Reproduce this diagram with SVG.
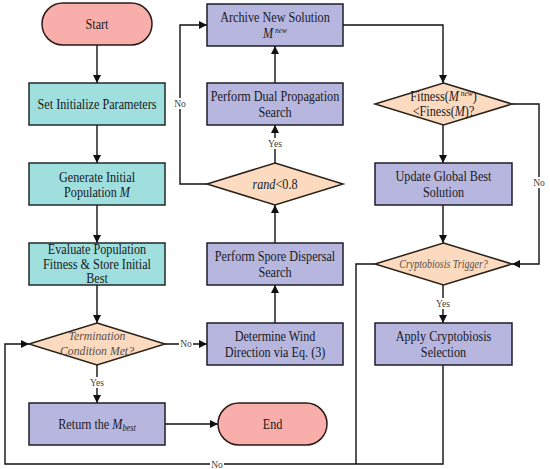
<svg xmlns="http://www.w3.org/2000/svg" width="550" height="469" viewBox="0 0 550 469">
<defs>
<marker id="ah" viewBox="0 0 10 10" refX="10" refY="5" markerWidth="8" markerHeight="8" markerUnits="userSpaceOnUse" orient="auto">
<path d="M0,0 L10,5 L0,10 z" fill="#111"/>
</marker>
<style>
.term{fill:#F8AFAB;stroke:#2a1a1a;stroke-width:1.5}
.teal{fill:#9FDFDE;stroke:#1e2a2a;stroke-width:1.5}
.lav{fill:#B6B6DF;stroke:#1e1e2a;stroke-width:1.5}
.dec{fill:#FBDAC0;stroke:#2a2218;stroke-width:1.5}
.t{font-size:14px;fill:#1a1a22;text-anchor:middle}
.it{font-style:italic}
.q{font-style:italic;fill:#5a5048;text-anchor:middle}
.lbl{font-size:11px;fill:#444;text-anchor:middle}
.c{fill:none;stroke:#111;stroke-width:1.4}
.a{marker-end:url(#ah)}
.bg{fill:#fff}
</style>
</defs>

<g id="connectors">
<path class="c a" d="M97,45 V83"/>
<path class="c a" d="M97,125 V163"/>
<path class="c a" d="M97,205 V243"/>
<path class="c a" d="M97,285 V323"/>
<path class="c a" d="M97,365 V403"/>
<path class="c a" d="M165,424 H218"/>
<path class="c a" d="M165,344 H207"/>
<path class="c a" d="M275,323 V285"/>
<path class="c a" d="M275,243 V205"/>
<path class="c a" d="M275,163 V125"/>
<path class="c a" d="M275,83 V46"/>
<path class="c a" d="M207,184 H180 V25 H207"/>
<path class="c a" d="M343,25 H443 V83"/>
<path class="c a" d="M443,125 V163"/>
<path class="c a" d="M512,104 H539 V264 H512"/>
<path class="c a" d="M443,205 V243"/>
<path class="c a" d="M443,285 V323"/>
<path class="c" d="M375,264 H356 V464"/>
<path class="c a" d="M443,365 V464 H5 V344 H29"/>
<rect class="bg" x="88" y="377" width="18" height="11"/>
<text class="lbl" font-family="Liberation Serif" transform="translate(97,386) scale(.87,1)">Yes</text>
<rect class="bg" x="266" y="138" width="18" height="11"/>
<text class="lbl" font-family="Liberation Serif" transform="translate(275,147) scale(.87,1)">Yes</text>
<rect class="bg" x="434" y="298" width="18" height="11"/>
<text class="lbl" font-family="Liberation Serif" transform="translate(443,307) scale(.87,1)">Yes</text>
<rect class="bg" x="173" y="98" width="14" height="11"/>
<text class="lbl" font-family="Liberation Serif" transform="translate(180,107) scale(.87,1)">No</text>
<rect class="bg" x="532" y="177" width="14" height="11"/>
<text class="lbl" font-family="Liberation Serif" transform="translate(539,186) scale(.87,1)">No</text>
<rect class="bg" x="179" y="338" width="14" height="11"/>
<text class="lbl" font-family="Liberation Serif" transform="translate(186,347) scale(.87,1)">No</text>
<rect class="bg" x="210" y="459" width="14" height="10"/>
<text class="lbl" font-family="Liberation Serif" transform="translate(217,468) scale(.87,1)">No</text>
</g>

<g id="start">
<rect class="term" x="42" y="3" width="110" height="42" rx="21"/>
<text class="t" font-family="Liberation Serif" transform="translate(97,29) scale(.87,1)">Start</text>
</g>
<g id="set-init">
<rect class="teal" x="29" y="83" width="136" height="42"/>
<text class="t" font-family="Liberation Serif" transform="translate(97,109) scale(.87,1)">Set Initialize Parameters</text>
</g>
<g id="generate">
<rect class="teal" x="29" y="163" width="136" height="42"/>
<text class="t" font-family="Liberation Serif" transform="translate(97,181.5) scale(.87,1)">Generate Initial</text>
<text class="t" font-family="Liberation Serif" transform="translate(97,196.5) scale(.87,1)">Population <tspan class="it">M</tspan></text>
</g>
<g id="evaluate">
<rect class="teal" x="29" y="243" width="136" height="42"/>
<text class="t" font-family="Liberation Serif" transform="translate(97,254) scale(.87,1)">Evaluate Population</text>
<text class="t" font-family="Liberation Serif" transform="translate(97,268.5) scale(.87,1)">Fitness &amp; Store Initial</text>
<text class="t" font-family="Liberation Serif" transform="translate(97,283) scale(.87,1)">Best</text>
</g>
<g id="termination">
<polygon class="dec" points="97,323 165,344 97,365 29,344"/>
<text class="q" font-family="Liberation Serif" font-size="13.5" transform="translate(97,340) scale(.87,1)">Termination</text>
<text class="q" font-family="Liberation Serif" font-size="13.5" transform="translate(97,355) scale(.87,1)">Condition Met?</text>
</g>
<g id="return">
<rect class="lav" x="29" y="403" width="136" height="42"/>
<text class="t" font-family="Liberation Serif" transform="translate(97,429) scale(.87,1)">Return the <tspan class="it">M</tspan><tspan class="it" font-size="9.5" dy="2">best</tspan></text>
</g>
<g id="end">
<rect class="term" x="218" y="403" width="109" height="42" rx="21"/>
<text class="t" font-family="Liberation Serif" transform="translate(272.5,429) scale(.87,1)">End</text>
</g>
<g id="archive">
<rect class="lav" x="207" y="4" width="136" height="42"/>
<text class="t" font-family="Liberation Serif" transform="translate(275,22) scale(.87,1)">Archive New Solution</text>
<text class="t" font-family="Liberation Serif" transform="translate(275,38) scale(.87,1)"><tspan class="it">M</tspan><tspan class="it" font-size="8.5" dy="-5"> new</tspan></text>
</g>
<g id="dual">
<rect class="lav" x="207" y="83" width="136" height="42"/>
<text class="t" font-family="Liberation Serif" transform="translate(275,101) scale(.87,1)">Perform Dual Propagation</text>
<text class="t" font-family="Liberation Serif" transform="translate(275,116.5) scale(.87,1)">Search</text>
</g>
<g id="rand">
<polygon class="dec" points="275,163 343,184 275,205 207,184"/>
<text class="t" font-family="Liberation Serif" transform="translate(275,189) scale(.87,1)"><tspan class="it">rand</tspan>&lt;0.8</text>
</g>
<g id="spore">
<rect class="lav" x="207" y="243" width="136" height="42"/>
<text class="t" font-family="Liberation Serif" transform="translate(275,261) scale(.87,1)">Perform Spore Dispersal</text>
<text class="t" font-family="Liberation Serif" transform="translate(275,276.5) scale(.87,1)">Search</text>
</g>
<g id="wind">
<rect class="lav" x="207" y="323" width="136" height="42"/>
<text class="t" font-family="Liberation Serif" transform="translate(275,341) scale(.87,1)">Determine Wind</text>
<text class="t" font-family="Liberation Serif" transform="translate(275,356.5) scale(.87,1)">Direction via Eq. (3)</text>
</g>
<g id="fitness">
<polygon class="dec" points="443.5,83 512,104 443.5,125 375,104"/>
<text class="t" font-family="Liberation Serif" transform="translate(443.5,100.5) scale(.87,1)">Fitness(<tspan class="it">M</tspan><tspan class="it" font-size="8.5" dy="-5"> new</tspan><tspan dy="5">)</tspan></text>
<text class="t" font-family="Liberation Serif" transform="translate(443.5,116) scale(.87,1)">&lt;Finess(<tspan class="it">M</tspan>)?</text>
</g>
<g id="update">
<rect class="lav" x="375" y="163" width="137" height="42"/>
<text class="t" font-family="Liberation Serif" transform="translate(443.5,181) scale(.87,1)">Update Global Best</text>
<text class="t" font-family="Liberation Serif" transform="translate(443.5,196.5) scale(.87,1)">Solution</text>
</g>
<g id="trigger">
<polygon class="dec" points="443.5,243 512,264 443.5,285 375,264"/>
<text class="q" font-family="Liberation Serif" font-size="11.5" transform="translate(443.5,267.5) scale(.87,1)">Cryptobiosis Trigger?</text>
</g>
<g id="apply">
<rect class="lav" x="375" y="323" width="137" height="42"/>
<text class="t" font-family="Liberation Serif" transform="translate(443.5,341) scale(.87,1)">Apply Cryptobiosis</text>
<text class="t" font-family="Liberation Serif" transform="translate(443.5,356.5) scale(.87,1)">Selection</text>
</g>
</svg>
